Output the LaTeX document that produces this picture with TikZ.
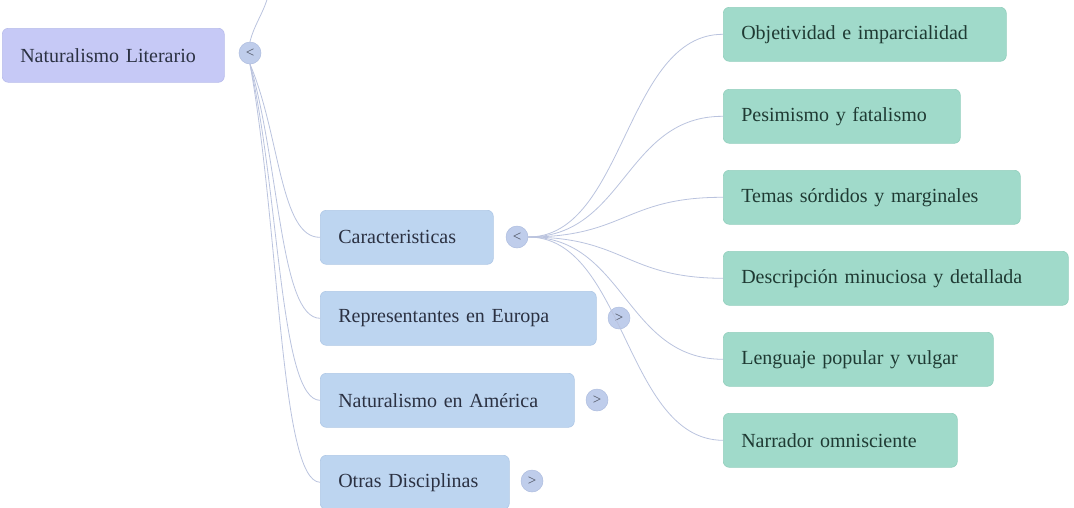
\documentclass[tikz,border=0pt]{standalone}
\usepackage{fontspec}
\setmainfont{Liberation Serif}
\definecolor{rootc}{HTML}{C6C9F6}
\definecolor{rootd}{HTML}{B8BCEB}
\definecolor{bluec}{HTML}{BDD5F0}
\definecolor{blued}{HTML}{AFC8E6}
\definecolor{greenc}{HTML}{A0DACA}
\definecolor{greend}{HTML}{93CFBD}
\definecolor{linec}{HTML}{BAC3DE}
\definecolor{txtb}{HTML}{2B3142}
\definecolor{txtg}{HTML}{1F3A33}
\definecolor{togc}{HTML}{BFCDEB}
\definecolor{togd}{HTML}{AEBDDF}
\tikzset{
 base/.style={rounded corners=6pt, inner xsep=18pt, inner ysep=0pt, minimum height=54pt,
   anchor=north west, align=left, line width=0.6pt, font=\fontsize{20}{24}\selectfont},
 rootbox/.style={base, fill=rootc, draw=rootd, text=txtb},
 bluebox/.style={base, fill=bluec, draw=blued, text=txtb},
 greenbox/.style={base, fill=greenc, draw=greend, text=txtg},
 toggle/.style={circle, minimum size=22pt, inner sep=0pt, fill=togc, draw=togd, line width=0.5pt,
   text=txtb!85, font=\fontsize{15}{15}\selectfont},
 conn/.style={draw=linec, line width=0.8pt},
}
\begin{document}
\begin{tikzpicture}[x=1pt,y=-1pt]
\useasboundingbox (0,0) rectangle (1074,507);
% root
\node[rootbox, text width=186pt] (root) at (2,28) {Naturalismo Literario};
\node[toggle] (rt) at (250,53) {<};
% blue children
\node[bluebox, text width=137pt] (car) at (320,210) {Caracteristicas};
\node[bluebox, text width=240pt] (eur) at (320,291) {Representantes en Europa};
\node[bluebox, text width=218pt] (ame) at (320,373) {Naturalismo en América};
\node[bluebox, text width=153pt] (otr) at (320,455) {Otras Disciplinas};
\node[toggle] (ct) at (517,237) {<};
\node[toggle] (et) at (619,318) {>};
\node[toggle] (at) at (597,400) {>};
\node[toggle] (ot) at (532,481) {>};
% green
\node[greenbox, text width=247pt] (obj) at (723,7) {Objetividad e imparcialidad};
\node[greenbox, text width=201pt] (pes) at (723,89) {Pesimismo y fatalismo};
\node[greenbox, text width=261pt] (tem) at (723,170) {Temas sórdidos y marginales};
\node[greenbox, text width=309pt] (des) at (723,251) {Descripción minuciosa y detallada};
\node[greenbox, text width=234pt] (len) at (723,332) {Lenguaje popular y vulgar};
\node[greenbox, text width=198pt] (nar) at (723,413) {Narrador omnisciente};
% connectors from root
\coordinate (topend) at (268,-4);
\draw[conn] (rt.north) .. controls (254,25) and (264,12) .. (topend);
\draw[conn] (rt.south) .. controls (280,134) and (280,238) .. (car.west);
\draw[conn] (rt.south) .. controls (280,166) and (280,318) .. (eur.west);
\draw[conn] (rt.south) .. controls (280,198) and (280,400) .. (ame.west);
\draw[conn] (rt.south) .. controls (280,231) and (280,481) .. (otr.west);
% connectors from Caracteristicas
\draw[conn] (ct.east) .. controls (625,237) and (625,34) .. (obj.west);
\draw[conn] (ct.east) .. controls (625,237) and (625,116) .. (pes.west);
\draw[conn] (ct.east) .. controls (625,237) and (625,197) .. (tem.west);
\draw[conn] (ct.east) .. controls (625,237) and (625,278) .. (des.west);
\draw[conn] (ct.east) .. controls (625,237) and (625,359) .. (len.west);
\draw[conn] (ct.east) .. controls (625,237) and (625,440) .. (nar.west);
\end{tikzpicture}
\end{document}
